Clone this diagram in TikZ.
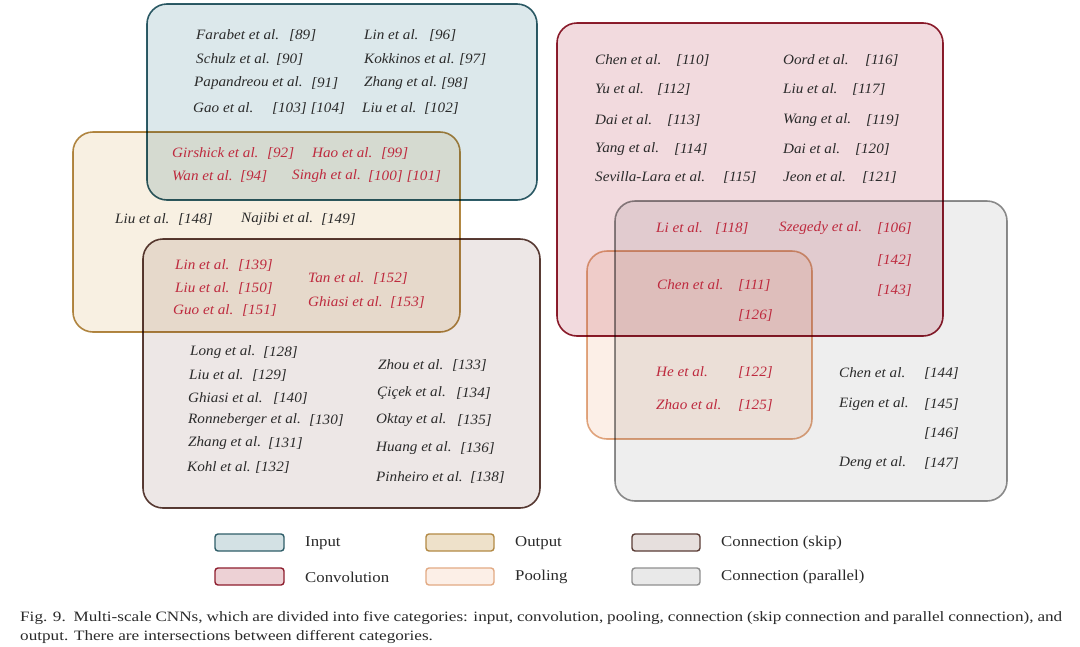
\documentclass[tikz,border=0pt]{standalone}
\usepackage{fontspec}
\setmainfont{Liberation Serif}
\newfontfamily\entfont[FakeStretch=1.06]{Liberation Serif}
\newfontfamily\lgfont[FakeStretch=1.12]{Liberation Serif}
\newfontfamily\capfont[FakeStretch=1.2]{Liberation Serif}
\definecolor{txtk}{HTML}{2A2A2A}
\definecolor{txtr}{HTML}{BE2A3E}
\definecolor{inF}{HTML}{DCE8EB}\definecolor{inD}{HTML}{2F5E69}
\definecolor{outF}{HTML}{F8F0E2}\definecolor{outD}{HTML}{B38A45}
\definecolor{skF}{HTML}{EDE7E6}\definecolor{skD}{HTML}{5B3D36}
\definecolor{cvF}{HTML}{F2DADE}\definecolor{cvD}{HTML}{8E1E2E}
\definecolor{paF}{HTML}{EEEEEE}\definecolor{paD}{HTML}{8F8F8F}
\definecolor{poF}{HTML}{FCEFE7}\definecolor{poD}{HTML}{E2AA84}
\begin{document}
\begin{tikzpicture}[x=1pt,y=-1pt,
  ent/.style={inner sep=0pt,anchor=west,font=\entfont\fontsize{14.3}{16}\selectfont\itshape,text=txtk},
  hl/.style={ent,text=txtr},
  venn/.style={line width=1.6pt,rounded corners=20pt},
  lgbox/.style={line width=1.4pt,rounded corners=3pt},
  lgtxt/.style={inner sep=0pt,anchor=west,font=\lgfont\fontsize{15}{18}\selectfont,text=txtk}]
\useasboundingbox (0,0) rectangle (1080,646);
\fill[white] (0,0) rectangle (1080,646);
\begin{scope}[blend group=multiply]
\draw[venn,draw=inD,fill=inF] (147,4) rectangle (537,200);
\draw[venn,draw=outD,fill=outF] (73,132) rectangle (460,332);
\draw[venn,draw=skD,fill=skF] (143,239) rectangle (540,508);
\draw[venn,draw=cvD,fill=cvF] (557,23) rectangle (943,336);
\draw[venn,draw=paD,fill=paF] (615,201) rectangle (1007,501);
\draw[venn,draw=poD,fill=poF] (587,251) rectangle (812,439);
\end{scope}
% black entries
\foreach \x/\y/\t/\rx/\r [count=\i] in {
196/35/Farabet et al./289/[89],
196/59/Schulz et al./276/[90],
194/83/Papandreou et al./311/[91],
193/108/Gao et al./272/[103] [104],
364/35/Lin et al./429/[96],
364/59/Kokkinos et al./459/[97],
364/83/Zhang et al./441/[98],
362/108/Liu et al./424/[102],
115/219/Liu et al./178/[148],
241/219/Najibi et al./321/[149],
190/352/Long et al./263/[128],
189/375/Liu et al./252/[129],
188/398/Ghiasi et al./273/[140],
188/420/Ronneberger et al./309/[130],
188/443/Zhang et al./268/[131],
187/467/Kohl et al./255/[132],
378/365/Zhou et al./452/[133],
377/393/Çiçek et al./456/[134],
376/420/Oktay et al./457/[135],
376/448/Huang et al./460/[136],
376/477/Pinheiro et al./470/[138],
595/60/Chen et al./676/[110],
595/89/Yu et al./657/[112],
595/120/Dai et al./667/[113],
595/149/Yang et al./674/[114],
595/177/Sevilla-Lara et al./723/[115],
783/60/Oord et al./865/[116],
783/89/Liu et al./852/[117],
783/120/Wang et al./866/[119],
783/149/Dai et al./855/[120],
783/177/Jeon et al./862/[121],
839/373/Chen et al./924/[144],
839/404/Eigen et al./924/[145],
839/463/Deng et al./924/[147]}{
  \node[ent] (ka\i) at (\x,\y) {\t};
  \node[ent] (kb\i) at (\rx,\y) {\r};
}
\node[ent] (k146) at (924,433) {[146]};
% red entries
\foreach \x/\y/\t/\rx/\r [count=\i] in {
172/153/Girshick et al./267/[92],
312/153/Hao et al./381/[99],
172/176/Wan et al./240/[94],
292/176/Singh et al./368/[100] [101],
175/265/Lin et al./238/[139],
175/288/Liu et al./238/[150],
173/310/Guo et al./242/[151],
308/278/Tan et al./373/[152],
308/302/Ghiasi et al./390/[153],
656/228/Li et al./715/[118],
779/228/Szegedy et al./877/[106],
657/285/Chen et al./738/[111],
656/372/He et al./738/[122],
656/405/Zhao et al./738/[125]}{
  \node[hl] (ra\i) at (\x,\y) {\t};
  \node[hl] (rb\i) at (\rx,\y) {\r};
}
\node[hl] (r142) at (877,260) {[142]};
\node[hl] (r143) at (877,290) {[143]};
\node[hl] (r126) at (738,315) {[126]};
% legend
\draw[lgbox,draw=inD,fill=inF!95!inD] (215,534) rectangle (284,551);
\draw[lgbox,draw=outD,fill=outF!85!outD] (426,534) rectangle (494,551);
\draw[lgbox,draw=skD,fill=skF!95!skD] (632,534) rectangle (700,551);
\draw[lgbox,draw=cvD,fill=cvF!95!cvD] (215,568) rectangle (284,585);
\draw[lgbox,draw=poD,fill=poF] (426,568) rectangle (494,585);
\draw[lgbox,draw=paD,fill=paF!95!paD] (632,568) rectangle (700,585);
\node[lgtxt] (l1) at (305,543) {Input};
\node[lgtxt] (l2) at (515,543) {Output};
\node[lgtxt] (l3) at (721,543) {Connection (skip)};
\node[lgtxt] (l4) at (305,577) {Convolution};
\node[lgtxt] (l5) at (515,577) {Pooling};
\node[lgtxt] (l6) at (721,577) {Connection (parallel)};
% caption
\node[inner sep=0pt,anchor=west,font=\capfont\fontsize{14.3}{18}\selectfont,text=txtk] (cap1) at (20,618)
  {\makebox[1042pt][s]{Fig. 9.\ \ Multi-scale CNNs, which are divided into five categories: input, convolution, pooling, connection (skip connection and parallel connection), and}};
\node[inner sep=0pt,anchor=west,font=\capfont\fontsize{14.3}{18}\selectfont,text=txtk] (cap2) at (20,637)
  {output. There are intersections between different categories.};
\end{tikzpicture}
\end{document}
